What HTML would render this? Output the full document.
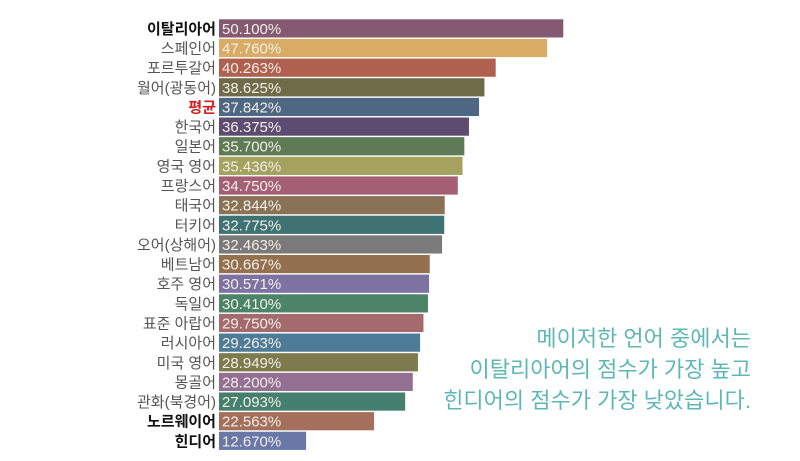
<!DOCTYPE html>
<html><head><meta charset="utf-8"><style>
body{margin:0;background:#fff;width:800px;height:461px;overflow:hidden}
svg{display:block}
text{font-family:"Liberation Sans","Noto Sans CJK KR",sans-serif}
</style></head><body>
<svg id="chart" width="800" height="461" viewBox="0 0 800 461" xmlns="http://www.w3.org/2000/svg">
<g id="bars"></g>
<g font-size="22" fill="#5db8b5" text-anchor="end">
<text x="751" y="346">메이저한 언어 중에서는</text>
<text x="751" y="377">이탈리아어의 점수가 가장 높고</text>
<text x="751" y="408">힌디어의 점수가 가장 낮았습니다.</text>
</g>
</svg>
<script>
const categories=["이탈리아어","스페인어","포르투갈어","월어(광동어)","평균","한국어","일본어","영국 영어","프랑스어","태국어","터키어","오어(상해어)","베트남어","호주 영어","독일어","표준 아랍어","러시아어","미국 영어","몽골어","관화(북경어)","노르웨이어","힌디어"];
const values=[50.100,47.760,40.263,38.625,37.842,36.375,35.700,35.436,34.750,32.844,32.775,32.463,30.667,30.571,30.410,29.750,29.263,28.949,28.200,27.093,22.563,12.670];
const valueLabels=["50.100%","47.760%","40.263%","38.625%","37.842%","36.375%","35.700%","35.436%","34.750%","32.844%","32.775%","32.463%","30.667%","30.571%","30.410%","29.750%","29.263%","28.949%","28.200%","27.093%","22.563%","12.670%"];
const colors=["#845a73","#d9ac66","#b0604f","#6f6a47","#4e6783","#5e4c70","#5e7b55","#a4a25e","#a45f74","#8a7257","#3f7373","#7a7a7a","#93704e","#7d73a3","#4c8467","#a56a6d","#4e7b98","#7d7a4e","#936f92","#45806f","#a4705b","#6a78a7"];
const boldIdx=[0,20,21], redIdx=[4];
const x0=219, scale=6.872, y0=19.3, pitch=19.64, bh=18.2;
const xPos=v=>x0+v*scale, yPos=i=>y0+i*pitch;
const g=document.getElementById('bars');
const NS="http://www.w3.org/2000/svg";
categories.forEach((c,i)=>{
  const r=document.createElementNS(NS,'rect');
  r.setAttribute('x',x0);r.setAttribute('y',yPos(i));
  r.setAttribute('width',xPos(values[i])-x0);r.setAttribute('height',bh);
  r.setAttribute('fill',colors[i]);
  
  
  g.appendChild(r);
  const v=document.createElementNS(NS,'text');
  v.setAttribute('x',x0+3);v.setAttribute('y',yPos(i)+bh/2+5.5);
  v.setAttribute('font-size','15');v.setAttribute('fill','#f2efe8');
  v.textContent=valueLabels[i];
  
  
  g.appendChild(v);
  const l=document.createElementNS(NS,'text');
  l.setAttribute('x',x0-3);l.setAttribute('y',yPos(i)+bh/2+5.5);
  l.setAttribute('font-size','15');l.setAttribute('text-anchor','end');
  l.setAttribute('fill',redIdx.includes(i)?'#d42020':(boldIdx.includes(i)?'#111':'#555'));
  if(boldIdx.includes(i)||redIdx.includes(i))l.setAttribute('font-weight','bold');
  l.textContent=c;
  
  
  g.appendChild(l);
});
</script>
</body></html>
